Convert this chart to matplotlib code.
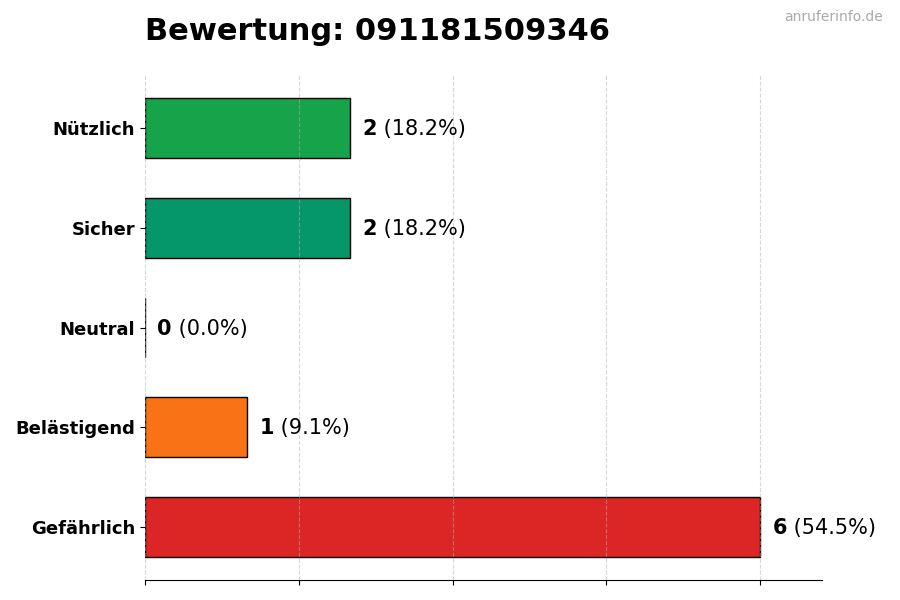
import matplotlib
matplotlib.use("Agg")
import matplotlib.pyplot as plt

categories = ["Gefährlich", "Belästigend", "Neutral", "Sicher", "Nützlich"]
counts = [6, 1, 0, 2, 2]
colors = ["#dc2626", "#f97316", "#6b7280", "#059669", "#16a34a"]
phone = "091181509346"

total = sum(counts)
max_val = max(counts)

fig = plt.figure(figsize=(9, 6), dpi=100)
ax = fig.add_axes([0.161, 0.0333, 0.752, 0.8417])

bars = ax.barh(categories, counts, height=0.6, color=colors,
               edgecolor="black", linewidth=1, zorder=2)

ax.set_xlim(0, max_val * 1.1)
ax.set_xticks([0, 1.5, 3, 4.5, 6])
ax.set_xticklabels([])
ax.grid(axis="x", linestyle="--", alpha=0.5, zorder=3)
ax.set_axisbelow(False)

for s in ["top", "right", "left"]:
    ax.spines[s].set_visible(False)

for lbl in ax.get_yticklabels():
    lbl.set_fontweight("bold")
    lbl.set_fontsize(13)

# value labels: bold count, normal percentage
for i, v in enumerate(counts):
    pct = v / total * 100
    x0 = v + max_val * 0.02
    t = ax.text(x0, i - 0.01, f"{v}", va="center", ha="left",
                fontsize=15, fontweight="bold")
    ax.annotate(f" ({pct:.1f}%)", xycoords=t, xy=(1, 0.5),
                va="center", ha="left", fontsize=15)

fig.text(0.161, 0.947, f"Bewertung: {phone}", fontsize=22,
         fontweight="bold", ha="left", va="center")
fig.text(0.981, 0.971, "anruferinfo.de", fontsize=10, color="#aaaaaa",
         ha="right", va="center")

fig.savefig("out.png", dpi=100)
